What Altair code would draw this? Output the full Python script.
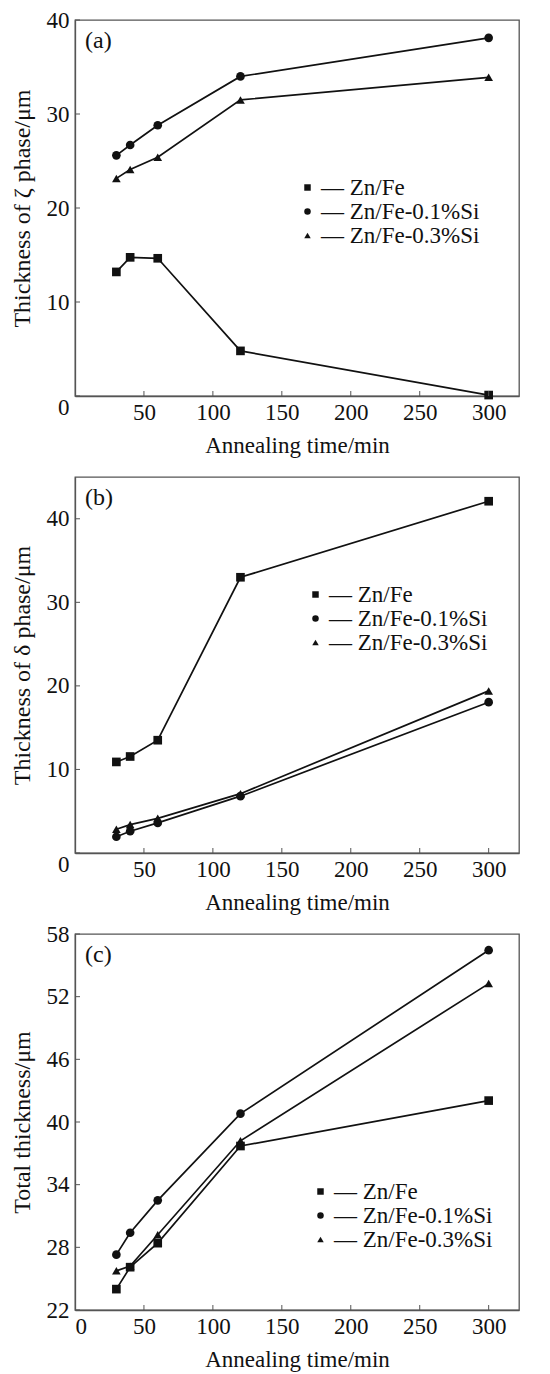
import altair as alt
import pandas as pd

times = [30, 40, 60, 120, 300]
series_names = ["Zn/Fe", "Zn/Fe-0.1%Si", "Zn/Fe-0.3%Si"]
shapes = ["square", "circle", "triangle-up"]

zeta_znfe = [13.2, 14.75, 14.65, 4.8, 0.1]
zeta_si01 = [25.6, 26.7, 28.8, 34.0, 38.1]
zeta_si03 = [23.15, 24.1, 25.4, 31.5, 33.9]

delta_znfe = [10.9, 11.55, 13.5, 33.0, 42.1]
delta_si01 = [1.95, 2.6, 3.6, 6.8, 18.05]
delta_si03 = [2.85, 3.4, 4.15, 7.1, 19.4]

total_znfe = [24.0, 26.1, 28.4, 37.7, 42.05]
total_si01 = [27.3, 29.4, 32.5, 40.8, 56.45]
total_si03 = [25.75, 26.2, 29.2, 38.2, 53.25]

x_labels_ab = [50, 100, 150, 200, 250, 300]
x_labels_c = [0, 50, 100, 150, 200, 250, 300]
x_tick_marks = [50, 100, 150, 200, 250, 300]
y_ticks_a = [0, 10, 20, 30, 40]
y_ticks_b = [0, 10, 20, 30, 40]
y_ticks_c = [22, 28, 34, 40, 46, 52, 58]

FONT = "Liberation Serif"
W, H = 444, 376
INK = "#111111"
FRAME = "#555555"


def panel(vals, y_domain, y_ticks, x_labels, y_title, tag, legend_x, legend_y, zero_low):
    rows = []
    for name, ys in zip(series_names, vals):
        for t, v in zip(times, ys):
            rows.append({"time": t, "value": v, "series": name})
    df = pd.DataFrame(rows)

    xscale = alt.Scale(domain=[0, 322], nice=False, zero=False)
    yscale = alt.Scale(domain=y_domain, nice=False, zero=False)

    if zero_low:
        baseline = {"condition": {"test": "datum.value === 0", "value": "top"}, "value": "middle"}
    else:
        baseline = "middle"

    x_enc = alt.X(
        "time:Q", scale=xscale,
        axis=alt.Axis(values=x_labels, title="Annealing time/min", ticks=False,
                      labelPadding=5, titlePadding=10, grid=False, format="d"),
    )
    y_enc = alt.Y(
        "value:Q", scale=yscale,
        axis=alt.Axis(values=y_ticks, title=y_title, ticks=False, labelPadding=6,
                      titlePadding=12, grid=False, labelBaseline=baseline, format="d"),
    )

    base = alt.Chart(df)
    lines = base.mark_line(color=INK, strokeWidth=1.7).encode(x=x_enc, y=y_enc, detail="series:N")
    points = base.mark_point(filled=True, color=INK, opacity=1, size=75).encode(
        x="time:Q",
        y="value:Q",
        shape=alt.Shape(
            "series:N",
            scale=alt.Scale(domain=series_names, range=shapes),
            legend=alt.Legend(
                orient="none", legendX=legend_x, legendY=legend_y, title=None,
                labelExpr="'\u2014  ' + datum.label", symbolSize=42,
                labelFont=FONT, labelFontSize=23, labelColor=INK, labelLimit=400,
                rowPadding=-2.5, padding=0, labelOffset=2,
                symbolFillColor=INK, symbolStrokeWidth=0,
            ),
        ),
    )
    xt = alt.Chart(pd.DataFrame({"time": x_tick_marks})).mark_rule(color=FRAME, strokeWidth=1).encode(
        x="time:Q", y=alt.value(H), y2=alt.value(H - 5)
    )
    yt = alt.Chart(pd.DataFrame({"value": y_ticks})).mark_rule(color=FRAME, strokeWidth=1).encode(
        y="value:Q", x=alt.value(0), x2=alt.value(5)
    )
    label = alt.Chart(pd.DataFrame({"tag": [tag]})).mark_text(
        font=FONT, fontSize=24, color=INK, align="left", baseline="middle"
    ).encode(text="tag:N", x=alt.value(10), y=alt.value(21))

    return alt.layer(lines, points, xt, yt, label).properties(width=W, height=H)


pa = panel([zeta_znfe, zeta_si01, zeta_si03], [0, 40], y_ticks_a, x_labels_ab,
           "Thickness of  \u03b6  phase/\u03bcm", "(a)", 221, 156, True)
pb = panel([delta_znfe, delta_si01, delta_si03], [0, 45], y_ticks_b, x_labels_ab,
           "Thickness of  \u03b4  phase/\u03bcm", "(b)", 229, 106, True)
pc = panel([total_znfe, total_si01, total_si03], [22, 58], y_ticks_c, x_labels_c,
           "Total thickness/\u03bcm", "(c)", 234, 246, False)

chart = alt.vconcat(pa, pb, pc, spacing=81, bounds="flush").resolve_scale(
    shape="independent"
).resolve_legend(
    shape="independent"
).properties(
    padding={"top": 0, "left": 1, "right": 5, "bottom": 5}
).configure_view(
    stroke=FRAME, strokeWidth=1.3
).configure_axis(
    labelFont=FONT, titleFont=FONT, labelFontSize=23, titleFontSize=23,
    labelColor=INK, titleColor=INK, titleFontWeight="normal",
    domainColor=FRAME, domainWidth=1.3,
).configure_axisY(
    titleFontSize=24
)

chart.save("out.html", embed_options={"renderer": "svg", "actions": False})
